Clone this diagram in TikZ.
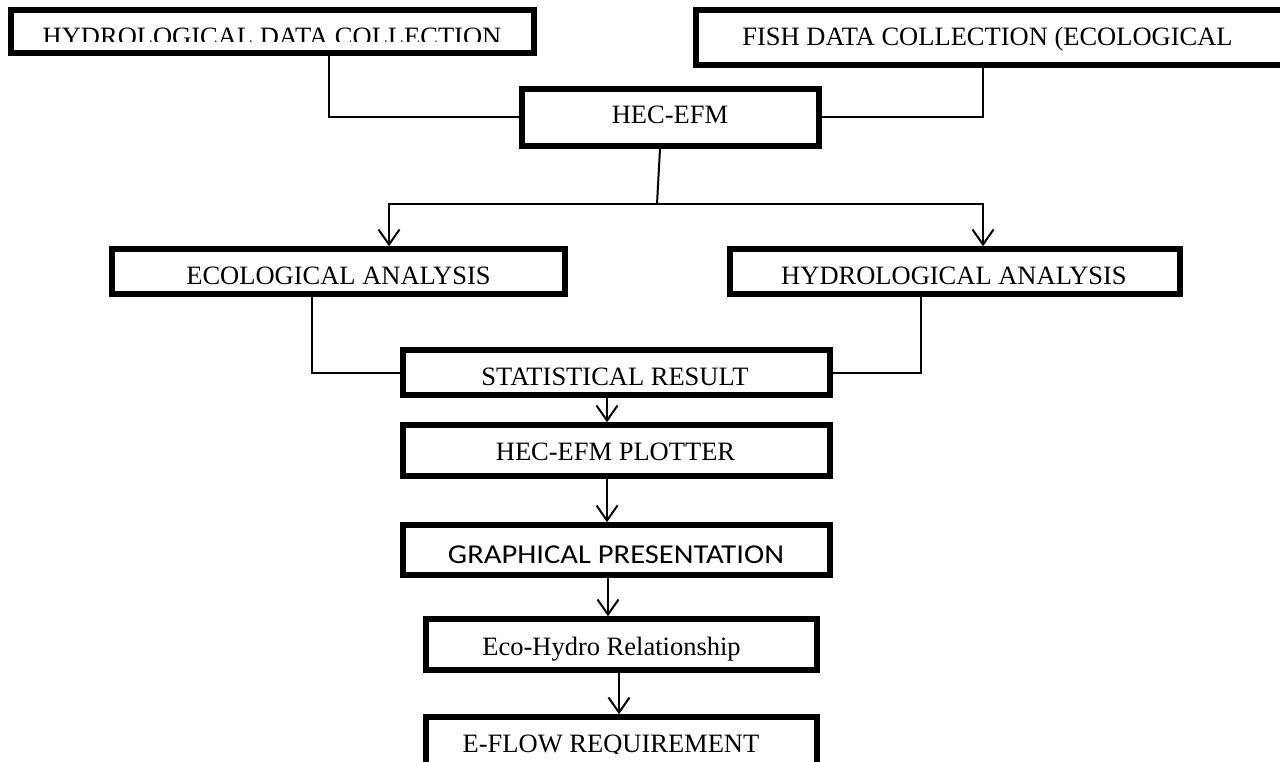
\documentclass[tikz,border=0pt]{standalone}
\usepackage{fontspec}
\setmainfont{Liberation Serif}
\newfontfamily\graphfont[FakeStretch=1.12]{Carlito}
\usetikzlibrary{arrows.meta}
\begin{document}
\begin{tikzpicture}[x=1pt,y=-1pt,
  box/.style={draw=black,line width=5.5pt,fill=white,inner sep=0pt,rectangle},
  lbl/.style={anchor=base,inner sep=0pt,font=\fontsize{26.5pt}{30pt}\selectfont},
  conn/.style={draw=black,line width=2pt},
  arr/.style={draw=black,line width=2pt,-{Straight Barb[length=15pt,width=21pt]}}]
\clip (0,0) rectangle (1280,762);
\fill[white] (0,0) rectangle (1280,762);
% boxes
\node[box,minimum width=523pt,minimum height=43pt] (hdc) at (272.5,31.5) {};
\node[box,minimum width=591pt,minimum height=55pt] (fish) at (991.5,37.5) {};
\node[box,minimum width=297pt,minimum height=57pt] (hec) at (670.5,117.5) {};
\node[box,minimum width=453pt,minimum height=45pt] (eco) at (338.5,271.5) {};
\node[box,minimum width=450pt,minimum height=45pt] (hya) at (955,271.5) {};
\node[box,minimum width=427pt,minimum height=45pt] (stat) at (616.5,372.5) {};
\node[box,minimum width=427pt,minimum height=51pt] (plot) at (616.5,450.5) {};
\node[box,minimum width=427pt,minimum height=50pt] (graph) at (616.5,550) {};
\node[box,minimum width=391pt,minimum height=51pt] (ecohydro) at (621.5,644.5) {};
\node[box,minimum width=391pt,minimum height=80pt] (eflow) at (621.5,757) {};
% texts
\begin{scope}
\clip (12,0) rectangle (533,42);
\node[lbl] (thdc) at (272,45.5) {HYDROLOGICAL DATA COLLECTION};
\end{scope}
\node[lbl] (tfish) at (987.5,46) {FISH DATA COLLECTION (ECOLOGICAL};
\node[lbl] (thec) at (670,124) {HEC-EFM};
\node[lbl] (teco) at (338.5,284) {ECOLOGICAL ANALYSIS};
\node[lbl] (thya) at (954,284) {HYDROLOGICAL ANALYSIS};
\node[lbl] (tstat) at (615,385) {STATISTICAL RESULT};
\node[lbl] (tplot) at (615.5,460) {HEC-EFM PLOTTER};
\node[lbl,font=\graphfont\fontsize{27.3pt}{30pt}\selectfont] (tgraph) at (616,563) {GRAPHICAL PRESENTATION};
\node[lbl] (tecohydro) at (611.5,655) {Eco-Hydro Relationship};
\begin{scope}
\clip (427,700) rectangle (816,753);
\node[lbl] (teflow) at (611,752.5) {E-FLOW REQUIREMENT};
\end{scope}
% connectors
\draw[conn] ([xshift=56.5pt]hdc.south) |- (hec.west);
\draw[conn] ([xshift=-8.5pt]fish.south) |- (hec.east);
\coordinate (split) at (657,204);
\draw[conn] ([xshift=-10.5pt]hec.south) -- (split);
\draw[arr] (split) -| ([xshift=50.5pt]eco.north);
\draw[arr] (split) -| ([xshift=28pt]hya.north);
\draw[conn] ([xshift=-26.5pt]eco.south) |- (stat.west);
\draw[conn] ([xshift=-34pt]hya.south) |- (stat.east);
\draw[arr] ([xshift=-9.5pt]stat.south) -- ([xshift=-9.5pt]plot.north);
\draw[arr] ([xshift=-9.5pt]plot.south) -- ([xshift=-9.5pt]graph.north);
\draw[arr] ([xshift=-8.5pt]graph.south) -- ([xshift=-8.5pt]graph.south |- ecohydro.north);
\draw[arr] ([xshift=-2.5pt]ecohydro.south) -- ([xshift=-2.5pt]eflow.north);
\end{tikzpicture}
\end{document}
